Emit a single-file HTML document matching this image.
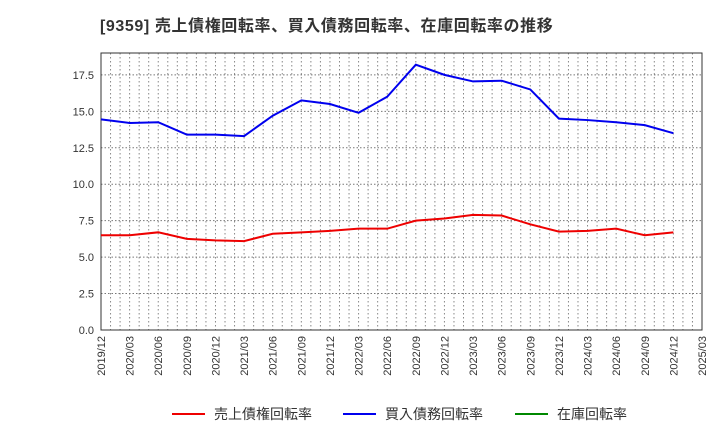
<!DOCTYPE html>
<html><head><meta charset="utf-8"><style>
body{margin:0;background:#fff;font-family:"Liberation Sans","Noto Sans CJK JP",sans-serif;}
</style></head><body>
<svg width="720" height="440" xmlns="http://www.w3.org/2000/svg" id="c">
<text x="100" y="31" font-size="16" font-weight="bold" fill="#333" letter-spacing="0.6" font-family="Liberation Sans, Noto Sans CJK JP, sans-serif">[9359]  売上債権回転率、買入債務回転率、在庫回転率の推移</text>
</svg>
<script>
const categories=["2019/12","2020/03","2020/06","2020/09","2020/12","2021/03","2021/06","2021/09","2021/12","2022/03","2022/06","2022/09","2022/12","2023/03","2023/06","2023/09","2023/12","2024/03","2024/06","2024/09","2024/12","2025/03"];
const receivables=[6.5,6.5,6.7,6.25,6.15,6.1,6.6,6.7,6.8,6.95,6.95,7.5,7.65,7.9,7.85,7.25,6.75,6.8,6.95,6.5,6.7];
const payables=[14.45,14.2,14.25,13.4,13.4,13.3,14.7,15.75,15.5,14.9,16.0,18.2,17.5,17.05,17.1,16.5,14.5,14.4,14.25,14.05,13.5];
const yTicks=[0,2.5,5,7.5,10,12.5,15,17.5];
const L=101,R=702,T=53,B=330,YMAX=19;
const svg=document.getElementById('c');const NS='http://www.w3.org/2000/svg';
const x=i=>L+(R-L)*i/(categories.length-1);
const y=v=>B-(B-T)*v/YMAX;
function mk(t,a){const e=document.createElementNS(NS,t);for(const k in a)e.setAttribute(k,a[k]);svg.appendChild(e);return e;}
for(let m=1;m<(categories.length-1)*3;m++){const xx=L+(R-L)*m/((categories.length-1)*3);
const g=mk('line',{x1:xx,x2:xx,y1:T,y2:B,stroke:'#888','stroke-dasharray':'1.5,2.5','stroke-width':1});

}
yTicks.forEach(v=>{if(v>0){const g=mk('line',{x1:L,x2:R,y1:y(v),y2:y(v),stroke:'#777','stroke-dasharray':'1.5,2','stroke-width':1});

}
const t=mk('text',{x:L-7,y:y(v)+4,'text-anchor':'end','font-size':11,fill:'#333'});t.textContent=v.toFixed(1);

});
categories.forEach((c,i)=>{const t=mk('text',{transform:`translate(${x(i)+4},${B+6}) rotate(-90)`,'text-anchor':'end','font-size':11,fill:'#333'});t.textContent=c;

});
const fr=mk('rect',{x:L,y:T,width:R-L,height:B-T,fill:'none',stroke:'#333','stroke-width':1});


function line(d,col,name){const p=mk('polyline',{points:d.map((v,i)=>x(i)+','+y(v)).join(' '),fill:'none',stroke:col,'stroke-width':2});

}
line(receivables,'#e00','receivables-turnover-line');
line(payables,'#00e','payables-turnover-line');
const leg=[['売上債権回転率','#e00',172],['買入債務回転率','#00e',343],['在庫回転率','#080',515]];
leg.forEach(([n,c,lx])=>{const l=mk('line',{x1:lx,x2:lx+33,y1:414,y2:414,stroke:c,'stroke-width':2});


const t=mk('text',{x:lx+42,y:419,'font-size':14,fill:'#333'});t.textContent=n;

});
</script>
</body></html>
